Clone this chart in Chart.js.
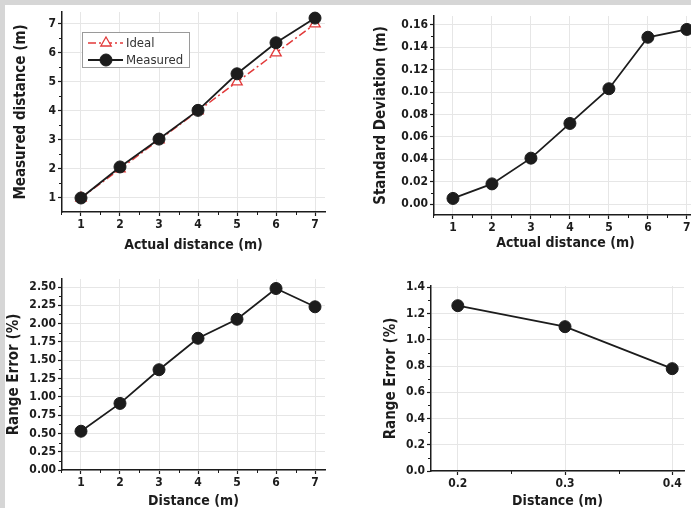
<!DOCTYPE html>
<html>
<head>
<meta charset="utf-8">
<script src="https://cdn.jsdelivr.net/npm/chart.js@4/dist/chart.umd.min.js"></script>
<style>
  body { margin: 0; width: 691px; height: 508px; overflow: hidden; position: relative; background: #d6d6d6; }
  #sheet { position: absolute; left: 5px; top: 5px; right: 0; bottom: 0; background: #fff; }
  canvas { position: absolute; }
</style>
</head>
<body>
<div id="sheet"></div>
<canvas id="c1" width="345" height="254" style="left:0;top:0"></canvas>
<canvas id="c2" width="360" height="254" style="left:345px;top:0"></canvas>
<canvas id="c3" width="345" height="254" style="left:0;top:254px"></canvas>
<canvas id="c4" width="346" height="254" style="left:345px;top:254px"></canvas>
<script>
// --- data ---
const distM = [1, 2, 3, 4, 5, 6, 7];
const idealDist = [1, 2, 3, 4, 5, 6, 7];
const measuredDist = [1.0, 2.07, 3.03, 4.02, 5.28, 6.35, 7.2];
const stdDev = [0.005, 0.018, 0.041, 0.072, 0.103, 0.149, 0.156];
const rangeErr = [0.53, 0.91, 1.37, 1.80, 2.06, 2.48, 2.23];
const shortDist = [0.2, 0.3, 0.4];
const shortErr = [1.26, 1.10, 0.78];

// --- tick labels ---
const ticksDist = [1, 2, 3, 4, 5, 6, 7];
const minorDist = [0.5, 1.5, 2.5, 3.5, 4.5, 5.5, 6.5];
const ticksMeas = [1, 2, 3, 4, 5, 6, 7];
const minorMeas = [1.5, 2.5, 3.5, 4.5, 5.5, 6.5];
const ticksStd = [0, 0.02, 0.04, 0.06, 0.08, 0.10, 0.12, 0.14, 0.16];
const minorStd = [0.01, 0.03, 0.05, 0.07, 0.09, 0.11, 0.13, 0.15];
const ticksErr = [0, 0.25, 0.5, 0.75, 1, 1.25, 1.5, 1.75, 2, 2.25, 2.5];
const minorErr = [0.125, 0.375, 0.625, 0.875, 1.125, 1.375, 1.625, 1.875, 2.125, 2.375];
const ticksShort = [0.2, 0.3, 0.4];
const minorShort = [0.25, 0.35];
const ticksShortErr = [0, 0.2, 0.4, 0.6, 0.8, 1.0, 1.2, 1.4];
const minorShortErr = [0.1, 0.3, 0.5, 0.7, 0.9, 1.1, 1.3];

const FONT = "'Liberation Sans Narrow', 'DejaVu Sans Condensed', 'Arial Narrow', sans-serif";
const INK = "#1c1c1c", RED = "#e23a3a";

const pts = (xs, ys) => xs.map((x, i) => ({ x, y: ys[i] }));

const minorTicks = {
  id: "minorTicks",
  afterDraw(chart, args, o) {
    const { ctx, chartArea: a, scales: { x, y } } = chart;
    ctx.save(); ctx.strokeStyle = INK; ctx.lineWidth = 1; ctx.beginPath();
    (o.x || []).forEach((v) => { const p = Math.round(x.getPixelForValue(v)) + 0.5; ctx.moveTo(p, a.bottom); ctx.lineTo(p, a.bottom + 3); });
    (o.y || []).forEach((v) => { const p = Math.round(y.getPixelForValue(v)) + 0.5; ctx.moveTo(a.left, p); ctx.lineTo(a.left - 3, p); });
    ctx.stroke(); ctx.restore();
  },
};

// boxed legend with line + marker samples, drawn inside the plot
const insetLegend = {
  id: "insetLegend",
  afterDraw(chart, args, o) {
    if (!o.show) return;
    const { ctx } = chart;
    ctx.save();
    ctx.fillStyle = "#fff"; ctx.fillRect(o.x, o.y, o.w, o.h);
    ctx.strokeStyle = "#9a9a9a"; ctx.lineWidth = 1; ctx.strokeRect(o.x + 0.5, o.y + 0.5, o.w, o.h);
    o.order.forEach((di, i) => {
      const ds = chart.data.datasets[di];
      const cy = o.y + 11 + i * 17;
      ctx.strokeStyle = ds.borderColor; ctx.lineWidth = ds.borderWidth;
      ctx.setLineDash(ds.borderDash || []);
      ctx.beginPath(); ctx.moveTo(o.x + 6, cy); ctx.lineTo(o.x + 41, cy); ctx.stroke();
      ctx.setLineDash([]);
      ctx.fillStyle = ds.pointBackgroundColor; ctx.strokeStyle = ds.pointBorderColor;
      ctx.lineWidth = ds.pointBorderWidth;
      Chart.helpers.drawPoint(ctx, { pointStyle: ds.pointStyle, radius: ds.pointRadius, borderWidth: ds.pointBorderWidth, rotation: 0 }, o.x + 24, cy);
      ctx.fillStyle = "#333"; ctx.font = "13px " + FONT; ctx.textBaseline = "middle";
      ctx.fillText(ds.label, o.x + 44, cy + 1);
    });
    ctx.restore();
  },
};

function axis(min, max, ticks, fmt, size, title, tpad) {
  const horiz = size < 50;
  return {
    type: "linear", min, max,
    afterBuildTicks: (s) => { s.ticks = ticks.map((v) => ({ value: v })); },
    afterFit: (s) => { if (s.isHorizontal()) s.height = size; else s.width = size; },
    ticks: { callback: fmt, color: INK, padding: 2, autoSkip: false, maxRotation: 0,
      font: { family: FONT, size: 12, weight: "bold" } },
    grid: { color: "#e6e6e6", lineWidth: 1, tickColor: INK, tickLength: 4, tickWidth: 1.2 },
    border: { color: INK, width: 1.5 },
    title: { display: true, text: title, color: INK, padding: { top: tpad, bottom: tpad },
      font: { family: FONT, size: horiz ? 14 : 15, weight: "bold", lineHeight: 1 } },
  };
}

function blackLine(label, data) {
  return { label, data, borderColor: INK, borderWidth: 1.8, pointStyle: "circle", pointRadius: 6,
    pointBackgroundColor: INK, pointBorderColor: INK, pointBorderWidth: 1, clip: false };
}

function make(id, cfg) {
  return new Chart(document.getElementById(id), {
    type: "line",
    data: { datasets: cfg.datasets },
    options: {
      responsive: false, animation: false,
      layout: { padding: cfg.pad },
      plugins: { legend: { display: false }, tooltip: { enabled: false },
        minorTicks: cfg.minor, insetLegend: cfg.legend || { show: false } },
      scales: { x: cfg.x, y: cfg.y },
    },
    plugins: [minorTicks, insetLegend],
  });
}

const int = (v) => String(v);
const f2 = (v) => v.toFixed(2);
const f1 = (v) => v.toFixed(1);

make("c1", {
  pad: { top: 12, right: 20, left: 0, bottom: 0 },
  x: axis(0.513, 7.256, ticksDist, int, 42, "Actual distance (m)", 2),
  y: axis(0.517, 7.41, ticksMeas, int, 62, "Measured distance (m)", 14),
  minor: { x: minorDist, y: minorMeas },
  legend: { show: true, x: 82, y: 32, w: 107, h: 35, order: [1, 0] },
  datasets: [
    blackLine("Measured", pts(distM, measuredDist)),
    { label: "Ideal", data: pts(distM, idealDist), borderColor: RED, borderWidth: 1.5,
      borderDash: [8, 3, 2, 3], pointStyle: "triangle", pointRadius: 6,
      pointBackgroundColor: "#fff", pointBorderColor: RED, pointBorderWidth: 1.3, clip: false },
  ],
});

make("c2", {
  pad: { top: 16, right: 8, left: 0, bottom: 0 },
  x: axis(0.513, 7.26, ticksDist, int, 39, "Actual distance (m)", 4),
  y: axis(-0.0098, 0.168, ticksStd, f2, 89, "Standard Deviation (m)", 29),
  minor: { x: minorDist, y: minorStd },
  datasets: [blackLine("Std", pts(distM, stdDev))],
});

make("c3", {
  pad: { top: 25, right: 20, left: 0, bottom: 0 },
  x: axis(0.513, 7.256, ticksDist, int, 38, "Distance (m)", 0),
  y: axis(0, 2.61, ticksErr, f2, 62, "Range Error (%)", 7),
  minor: { x: minorDist, y: minorErr },
  datasets: [blackLine("Err", pts(distM, rangeErr))],
});

make("c4", {
  pad: { top: 32, right: 4, left: 0, bottom: 0 },
  x: axis(0.175, 0.411, ticksShort, f1, 37, "Distance (m)", 0),
  y: axis(0, 1.41, ticksShortErr, f1, 86, "Range Error (%)", 39),
  minor: { x: minorShort, y: minorShortErr },
  datasets: [blackLine("Err", pts(shortDist, shortErr))],
});
</script>
</body>
</html>
